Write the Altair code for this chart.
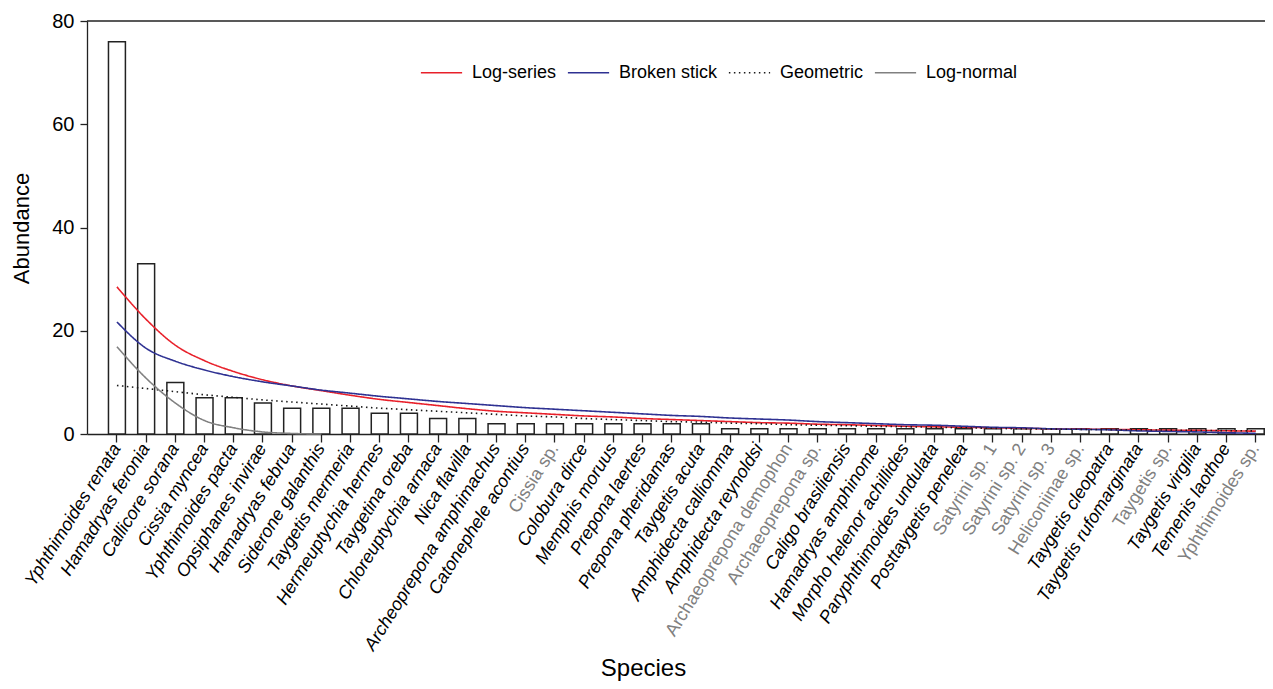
import altair as alt
import pandas as pd

species = [
    "Yphthimoides renata", "Hamadryas feronia", "Callicore sorana", "Cissia myncea",
    "Yphthimoides pacta", "Opsiphanes invirae", "Hamadryas februa", "Siderone galanthis",
    "Taygetis mermeria", "Hermeuptychia hermes", "Taygetina oreba", "Chloreuptychia arnaca",
    "Nica flavilla", "Archeoprepona amphimachus", "Catonephele acontius", "Cissia sp.",
    "Colobura dirce", "Memphis moruus", "Prepona laertes", "Prepona pheridamas",
    "Taygetis acuta", "Amphidecta calliomma", "Amphidecta reynoldsi", "Archaeoprepona demophon",
    "Archaeoprepona sp.", "Caligo brasiliensis", "Hamadryas amphinome", "Morpho helenor achillides",
    "Paryphthimoides undulata", "Posttaygetis penelea", "Satyrini sp. 1", "Satyrini sp. 2",
    "Satyrini sp. 3", "Heliconiinae sp.", "Taygetis cleopatra", "Taygetis rufomarginata",
    "Taygetis sp.", "Taygetis virgilia", "Temenis laothoe", "Yphthimoides sp.",
]
abundance = [76, 33, 10, 7, 7, 6, 5, 5, 5, 4, 4, 3, 3, 2, 2, 2, 2, 2, 2, 2, 2,
             1, 1, 1, 1, 1, 1, 1, 1, 1, 1, 1, 1, 1, 1, 1, 1, 1, 1, 1]

log_series = [28.5, 22.2, 17.2, 14.2, 12.1, 10.5, 9.3, 8.4, 7.5, 6.7, 6.1, 5.5, 4.9, 4.4,
              4.1, 3.8, 3.5, 3.3, 3.0, 2.8, 2.6, 2.4, 2.2, 2.1, 1.9, 1.8, 1.65, 1.5, 1.4,
              1.3, 1.2, 1.1, 1.0, 0.95, 0.9, 0.82, 0.75, 0.7, 0.62, 0.55]
broken_stick = [21.7, 16.6, 14.1, 12.4, 11.1, 10.1, 9.3, 8.5, 7.9, 7.3, 6.8, 6.3, 5.9, 5.5,
                5.1, 4.8, 4.5, 4.2, 3.9, 3.6, 3.4, 3.1, 2.9, 2.7, 2.4, 2.2, 2.0, 1.8, 1.7,
                1.5, 1.3, 1.2, 1.0, 0.9, 0.8, 0.6, 0.5, 0.4, 0.25, 0.13]
geometric = [9.4, 8.8, 8.2, 7.6, 7.1, 6.6, 6.2, 5.8, 5.4, 5.0, 4.7, 4.4, 4.1, 3.8, 3.5,
             3.3, 3.0, 2.8, 2.6, 2.4, 2.3, 2.1, 2.0, 1.8, 1.7, 1.6, 1.5, 1.4, 1.3, 1.2,
             1.1, 1.0, 0.95, 0.9, 0.85, 0.8, 0.75, 0.7, 0.65, 0.6]
log_normal = [16.9, 10.8, 6.0, 2.6, 1.2, 0.4, 0.1, 0.0]

models = ["Log-series", "Broken stick", "Geometric", "Log-normal"]
model_colors = ["#e8202a", "#2e3192", "#1a1a1a", "#808080"]
model_dashes = [[1, 0], [1, 0], [1.5, 3.5], [1, 0]]

gray_labels = ["Cissia sp.", "Archaeoprepona demophon", "Archaeoprepona sp.",
               "Satyrini sp. 1", "Satyrini sp. 2", "Satyrini sp. 3",
               "Heliconiinae sp.", "Taygetis sp.", "Yphthimoides sp."]

FONT = "Liberation Sans"

bars_df = pd.DataFrame({"species": species, "abundance": abundance})
rows = []
for m, vals in zip(models, [log_series, broken_stick, geometric, log_normal]):
    for i, (s, v) in enumerate(zip(species, vals)):
        rows.append({"model": m, "species": s, "value": v, "rank": i + 1})
lines_df = pd.DataFrame(rows)

x_scale = alt.Scale(domain=species, paddingInner=0.42, paddingOuter=0.381, align=0.965)
y_scale = alt.Scale(domain=[0, 80], nice=False)

test = "indexof([" + ",".join("'" + s + "'" for s in gray_labels) + "], datum.value) >= 0"

x_axis = alt.Axis(
    title="Species", labelAngle=-58, labelAlign="right", labelBaseline="middle",
    labelFontSize=18, labelFont=FONT, labelLimit=500, labelOverlap=False,
    labelColor={"condition": {"test": test, "value": "#808080"}, "value": "#000000"},
    labelFontStyle={"condition": {"test": test, "value": "normal"}, "value": "italic"},
    tickSize=8, labelPadding=3, titleFontSize=24, titleFont=FONT,
    titleFontWeight="normal", titleX=556, titleY=241, titleBaseline="alphabetic",
    titleAlign="center",
)
y_axis = alt.Axis(
    title="Abundance", values=[0, 20, 40, 60, 80], labelFontSize=20, labelFont=FONT,
    tickSize=7, labelPadding=6, grid=False, titleFontSize=22, titleFont=FONT,
    titleFontWeight="normal", titleX=-59, titleY=207, titleAngle=-90,
    titleBaseline="alphabetic", titleAlign="center",
)

bars = alt.Chart(bars_df).mark_bar(fill="white", stroke="#222222", strokeWidth=1.5).encode(
    x=alt.X("species:N", scale=x_scale, axis=x_axis, sort=species),
    y=alt.Y("abundance:Q", scale=y_scale, axis=y_axis),
)

legend = alt.Legend(
    orient="none", legendX=333, legendY=30, direction="horizontal", title=None,
    symbolType="stroke", symbolSize=1700, symbolStrokeWidth=1.5, labelFontSize=18,
    labelFont=FONT, labelOffset=9, columnPadding=7, padding=0, labelColor="#000000",
)

lines = alt.Chart(lines_df).mark_line(interpolate="monotone", strokeWidth=1.6).encode(
    x=alt.X("species:N", scale=x_scale, sort=species),
    y=alt.Y("value:Q", scale=y_scale),
    color=alt.Color("model:N", scale=alt.Scale(domain=models, range=model_colors), legend=legend),
    strokeDash=alt.StrokeDash("model:N", scale=alt.Scale(domain=models, range=model_dashes), legend=legend),
    order="rank:Q",
)

top_df = pd.DataFrame({"top": [80]})
top_line = alt.Chart(top_df).mark_rule(color="#222222", strokeWidth=1.3).encode(
    y=alt.Y("top:Q", scale=y_scale)
)

chart = alt.layer(bars, lines, top_line).properties(
    width=1178, height=413,
    padding={"left": 79, "top": 13, "right": 0, "bottom": 247},
    autosize="none",
).configure_view(stroke=None).configure_axis(
    domainColor="#222222", tickColor="#222222", domainWidth=1.3, tickWidth=1.3,
    titleColor="#000000", labelColor="#000000",
)

chart.save("out.html", embed_options={"renderer": "svg", "actions": False})
